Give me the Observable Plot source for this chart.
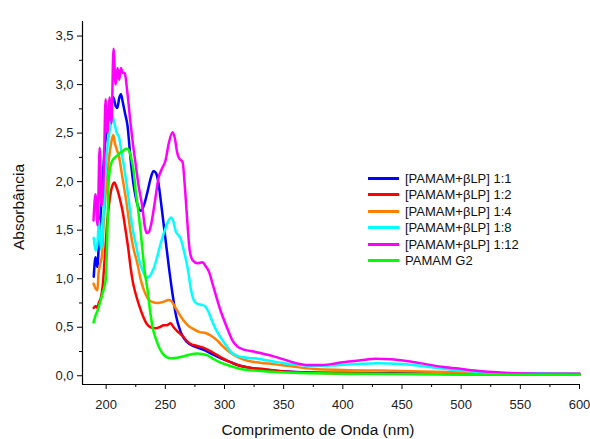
<!DOCTYPE html>
<html><head><meta charset="utf-8">
<script src="https://cdn.jsdelivr.net/npm/d3@7"></script>
<script src="https://cdn.jsdelivr.net/npm/@observablehq/plot@0.6"></script>
<style>
body{margin:0;background:#fff;font-family:Arial,"Liberation Sans",sans-serif;}
#wrap{position:relative;width:590px;height:439px;}
#legend{position:absolute;left:368px;top:170px;font-size:13px;color:#111;}
.row{display:flex;align-items:center;height:16.5px;white-space:nowrap;}
.sw{width:31px;height:3px;margin-right:6px;}
</style></head><body><div id="wrap"><div id="legend"></div></div>
<script>
// Series names and colours
const seriesNames = ["[PAMAM+βLP] 1:1","[PAMAM+βLP] 1:2","[PAMAM+βLP] 1:4","[PAMAM+βLP] 1:8","[PAMAM+βLP] 1:12","PAMAM G2"];
const seriesColors = ["#0000ff","#ff0000","#ff8000","#00ffff","#ff00ff","#00ff00"];

// Axis ticks
const xMajor = [200,250,300,350,400,450,500,550,600];
const xMinor = [225,275,325,375,425,475,525,575];
const yMajor = [0,0.5,1,1.5,2,2.5,3,3.5];
const yMinor = [0.25,0.75,1.25,1.75,2.25,2.75,3.25];
const xDomain = [180,600];
const yDomain = [-0.09,3.65];

// [PAMAM+βLP] 1:1
const wl11 = [189.5,191,192.5,194,195.5,197,198.5,200,202,204,206,208,209.5,211,212.5,214,216,218,220.5,223,225,227,229.5,232,235,237.5,240,242,244,246,248,250,253,256,259,263,268,275,282,290,297,305,314,325,340,360,400,450,500,550,600];
const ab11 = [1.02,1.22,1.12,1.4,1.7,2.0,2.3,2.5,2.65,2.75,2.87,2.78,2.76,2.86,2.9,2.82,2.7,2.58,2.25,1.98,1.84,1.74,1.7,1.76,1.9,2.03,2.11,2.09,2.0,1.82,1.62,1.42,1.12,0.85,0.62,0.45,0.35,0.3,0.27,0.22,0.18,0.14,0.1,0.075,0.055,0.04,0.03,0.025,0.02,0.015,0.015];

// [PAMAM+βLP] 1:2
const wl12 = [189.5,191,192.5,194,195.5,197,199,201,203,205,207,208.5,210.4,212,213.8,216.4,218.9,220.6,222.5,224.8,228,231.6,234,237.5,241.7,245,248.5,251,254.5,257,260,264.5,268,271,276,282,290,297,305,314,323,333,345,362,400,450,500,600];
const ab12 = [0.7,0.72,0.7,0.76,0.8,0.92,1.25,1.6,1.82,1.95,1.99,1.95,1.88,1.8,1.7,1.5,1.29,1.12,0.97,0.85,0.72,0.6,0.54,0.5,0.49,0.5,0.52,0.52,0.54,0.5,0.46,0.41,0.36,0.33,0.31,0.29,0.24,0.19,0.14,0.1,0.08,0.07,0.05,0.035,0.025,0.02,0.015,0.01];

// [PAMAM+βLP] 1:4
const wl14 = [189.3,191,192.7,193.5,195,196.5,198,200,202,204,206,207.5,209,211,213,215,217,219,221,223,226.5,229,232,235,239,243.4,248,252.7,255,258.6,262,265.4,269,273.9,279,284,289,294.2,298,302.6,310,319.5,330,341.5,355,375.3,400,450,500,550,600];
const ab14 = [0.95,0.9,0.88,1.05,1.15,1.25,1.6,1.95,2.2,2.38,2.48,2.39,2.33,2.25,2.1,1.95,1.8,1.62,1.45,1.32,1.15,1.0,0.88,0.8,0.76,0.75,0.76,0.78,0.77,0.7,0.63,0.57,0.52,0.48,0.45,0.44,0.41,0.36,0.31,0.26,0.2,0.155,0.135,0.12,0.1,0.07,0.06,0.05,0.035,0.025,0.02];

// [PAMAM+βLP] 1:8
const wl18 = [189.5,191,192.5,194,195.5,197,198.5,200,202,204,205.5,207,209,211,213,215,217,219,221,223,225,227,229,231,234,237,240,243,246,249,252,255,257,259,261,263,266,269,271.5,274,277,281,284,286,289,293,297,302,307,315,325,340,350,365,375,390,410,430,450,470,490,510,530,560,600];
const ab18 = [1.42,1.29,1.35,1.6,1.3,1.45,1.9,2.2,2.45,2.6,2.67,2.6,2.5,2.45,2.3,2.16,2.0,1.82,1.62,1.47,1.36,1.24,1.14,1.08,1.01,1.03,1.1,1.22,1.36,1.48,1.58,1.63,1.58,1.48,1.45,1.41,1.27,1.1,0.9,0.78,0.74,0.73,0.71,0.67,0.58,0.47,0.39,0.3,0.23,0.19,0.18,0.15,0.13,0.11,0.1,0.105,0.12,0.13,0.12,0.095,0.065,0.045,0.03,0.025,0.02];

// [PAMAM+βLP] 1:12
const wl112 = [189.3,191,192.7,194.5,196,198,199.5,201,203,204.5,206.2,208,209.6,211,212.5,214,215.5,218,220.6,222.5,224.8,227.5,230.7,232.5,234.1,236,238,241,244.3,247,250.2,253,256.1,258,260,261.2,264.6,266.5,268.8,270.5,273,277,281.5,284,286.6,291,296.7,302,306.9,311,316.2,322,328,335,341.5,353.4,362,370.3,380,390,400,415,428,440,455,470,485,500,515,530,545,570,600];
const ab112 = [1.6,1.87,1.55,2.35,1.75,2.1,2.85,2.5,2.87,2.6,3.37,3.0,3.17,3.05,3.17,3.12,3.12,2.91,2.6,2.4,2.19,1.95,1.73,1.55,1.47,1.48,1.56,1.78,2.04,2.13,2.22,2.4,2.51,2.45,2.3,2.25,2.2,1.95,1.55,1.3,1.19,1.16,1.17,1.13,1.08,0.9,0.67,0.5,0.36,0.3,0.27,0.255,0.24,0.22,0.2,0.155,0.125,0.11,0.11,0.12,0.14,0.16,0.175,0.17,0.15,0.12,0.09,0.07,0.05,0.035,0.025,0.02,0.02];

// PAMAM G2
const wlG2 = [189.3,191,192.7,194,195.2,197,199.5,201.1,202,203.5,205.4,207.5,209.6,212,214.7,216.5,218.9,221,223.1,225,227.4,229,230.7,232.5,235,237,239.2,242,246,250,254.4,260,265.4,271,277.3,281,285.7,291,296.7,305,313.6,330,347.4,380,420,480,540,600];
const abG2 = [0.55,0.62,0.67,0.72,0.77,0.85,0.98,1.5,1.98,2.15,2.22,2.25,2.27,2.3,2.32,2.34,2.33,2.25,2.12,1.9,1.67,1.5,1.29,1.08,0.88,0.68,0.5,0.38,0.26,0.2,0.18,0.185,0.2,0.22,0.23,0.225,0.21,0.17,0.135,0.1,0.07,0.05,0.035,0.025,0.02,0.015,0.01,0.01];

const wls = [wl11,wl12,wl14,wl18,wl112,wlG2];
const abs = [ab11,ab12,ab14,ab18,ab112,abG2];

const data = [];
seriesNames.forEach((name,i)=>{
  wls[i].forEach((w,j)=>data.push({series:name, wl:w, a:abs[i][j], color:seriesColors[i]}));
});

const fmt = d => d.toFixed(1).replace(".", ",");
const font = 'Arial, "Liberation Sans", sans-serif';

const chart = Plot.plot({
  width:590, height:439,
  marginLeft:82, marginRight:11, marginTop:21, marginBottom:55,
  style:{fontFamily:font, fontSize:"13px", color:"#222", background:"#fff", overflow:"visible"},
  x:{domain:xDomain},
  y:{domain:yDomain},
  marks:[
    Plot.axisX(xMinor,{tickSize:3, text:null, label:null, stroke:"#000"}),
    Plot.axisX(xMajor,{tickSize:5, tickPadding:10, tickFormat:d=>String(d), label:null, stroke:"#000"}),
    Plot.axisY(yMinor,{tickSize:3, text:null, label:null, stroke:"#000"}),
    Plot.axisY(yMajor,{tickSize:5, tickPadding:4, tickFormat:fmt, label:null, stroke:"#000"}),
    Plot.ruleX([xDomain[0]],{stroke:"#000", strokeWidth:1.2}),
    Plot.ruleY([yDomain[0]],{stroke:"#000", strokeWidth:1.2}),
    Plot.line(data,{x:"wl", y:"a", z:"series", stroke:"color", strokeWidth:2.5, curve:"monotone-x"}),
    Plot.text(["Comprimento de Onda (nm)"],{frameAnchor:"bottom", dx:-13, dy:50, fontSize:15.5, fill:"#111"}),
    Plot.text(["Absorbância"],{frameAnchor:"left", textAnchor:"middle", rotate:-90, dx:-63, dy:4, fontSize:15.5, fill:"#111"})
  ]
});
const wrap = document.getElementById("wrap");
wrap.insertBefore(chart, wrap.firstChild);

const legend = document.getElementById("legend");
seriesNames.forEach((n,i)=>{
  const row = document.createElement("div"); row.className="row";
  const sw = document.createElement("div"); sw.className="sw"; sw.style.background=seriesColors[i];
  const t = document.createElement("span"); t.textContent=n;
  row.appendChild(sw); row.appendChild(t); legend.appendChild(row);
});
</script>
</body></html>
